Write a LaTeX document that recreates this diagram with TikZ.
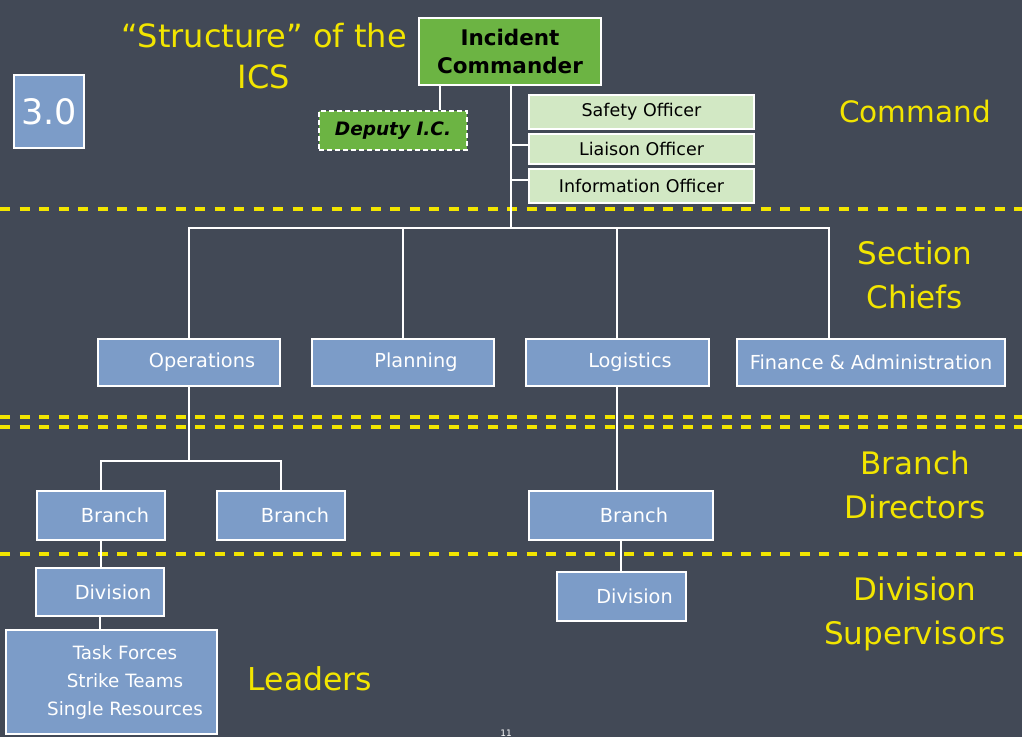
\documentclass[tikz,border=0pt]{standalone}
\usepackage{fontspec}
\setmainfont{DejaVu Sans}
\newfontfamily\boldv{DejaVu Sans}
\usetikzlibrary{positioning}
\definecolor{board}{HTML}{424956}
\definecolor{chalkyellow}{HTML}{F2E500}
\definecolor{boxblue}{HTML}{7C9CC8}
\definecolor{icgreen}{HTML}{6CB443}
\definecolor{lightgreen}{HTML}{D2E8C4}
\tikzset{
  x=1pt,y=-1pt,
  bluebox/.style={draw=white,line width=2pt,fill=boxblue,text=white,inner sep=0pt,font=\fontsize{19.3}{22}\selectfont},
  staffbox/.style={draw=white,line width=2pt,fill=lightgreen,text=black,inner sep=0pt,minimum width=225pt,font=\fontsize{17.5}{19}\selectfont},
  greenbox/.style={draw=white,line width=2pt,fill=icgreen,text=black,inner sep=0pt},
  wire/.style={draw=white,line width=2pt},
  sepline/.style={draw=chalkyellow,line width=4pt,dash pattern=on 10pt off 9.5pt},
  tag/.style={text=chalkyellow,align=center,font=\fontsize{31}{44}\selectfont}
}
\begin{document}
\begin{tikzpicture}
\useasboundingbox (0,0) rectangle (1022,737);
\fill[board] (0,0) rectangle (1022,737);

% separator lines
\draw[sepline] (0,209) -- (1022,209);
\draw[sepline] (0,417) -- (1022,417);
\draw[sepline] (0,427) -- (1022,427);
\draw[sepline] (0,554) -- (1022,554);

% nodes
\node[greenbox,minimum width=182pt,minimum height=67pt,align=center,font=\boldv\bfseries\fontsize{21.5}{28}\selectfont] (ic) at (510,51.5) {Incident\\Commander};
\node[greenbox,dash pattern=on 5pt off 3pt,minimum width=148pt,minimum height=39pt,font=\boldv\bfseries\itshape\fontsize{18.5}{20}\selectfont] (dep) at (393,130.5) {Deputy I.C.};
\node[staffbox,minimum height=34pt] (safety) at (641.5,112) {Safety Officer};
\node[staffbox,minimum height=30pt] (liaison) at (641.5,149) {Liaison Officer};
\node[staffbox,minimum height=34pt] (info) at (641.5,186) {Information Officer};

\node[bluebox,minimum width=182pt,minimum height=47pt] (ops) at (189,362.5) {\hspace{26pt}\raisebox{-2pt}{Operations}};
\node[bluebox,minimum width=182pt,minimum height=47pt] (plan) at (403,362.5) {\hspace{26pt}\raisebox{-2pt}{Planning}};
\node[bluebox,minimum width=183pt,minimum height=47pt] (log) at (617,362.5) {\hspace{26pt}\raisebox{-2pt}{Logistics}};
\node[bluebox,minimum width=268pt,minimum height=47pt] (fin) at (871,362.5) {\raisebox{-2pt}{Finance \& Administration}};

\node[bluebox,minimum width=128pt,minimum height=49pt] (br1) at (101,515.5) {\hspace{28pt}\raisebox{-1.5pt}{Branch}};
\node[bluebox,minimum width=128pt,minimum height=49pt] (br2) at (281,515.5) {\hspace{28pt}\raisebox{-1.5pt}{Branch}};
\node[bluebox,minimum width=184pt,minimum height=49pt] (br3) at (621,515.5) {\hspace{26pt}\raisebox{-1.5pt}{Branch}};

\node[bluebox,minimum width=128pt,minimum height=48pt] (div1) at (100,592) {\hspace{26pt}Division};
\node[bluebox,minimum width=129pt,minimum height=49pt] (div2) at (621.5,596.5) {\hspace{26pt}\raisebox{-1.5pt}{Division}};

\node[bluebox,minimum width=211pt,minimum height=104pt,align=center,font=\fontsize{18.3}{28}\selectfont] (task) at (111.5,682) {\hspace{27pt}Task Forces\\\hspace{27pt}Strike Teams\\\hspace{27pt}Single Resources};

\node[bluebox,minimum width=70pt,minimum height=73pt,font=\fontsize{35}{38}\selectfont] (num) at (49,111.5) {3.0};

% connectors
\draw[wire] (ic.south -| 440,0) -- (dep.north -| 440,0);
\coordinate (bar) at (511,228);
\coordinate (finbar) at (829,228);
\draw[wire] (ic.south -| bar) -- (bar);
\draw[wire] (511,145) -- (511,145 -| liaison.west);
\draw[wire] (511,180) -- (511,180 -| info.west);
\draw[wire] (ops.north) -- (ops.north |- bar) -- (finbar) -- (finbar |- fin.north);
\draw[wire] (plan.north |- bar) -- (plan.north);
\draw[wire] (log.north |- bar) -- (log.north);

\coordinate (opsbar) at (189,461);
\draw[wire] (ops.south) -- (opsbar);
\draw[wire] (br1.north) -- (br1.north |- opsbar) -- (br2.north |- opsbar) -- (br2.north);
\draw[wire] (br1.south) -- (br1.south |- div1.north);
\draw[wire] (div1.south) -- (div1.south |- task.north);
\draw[wire] (log.south) -- (log.south |- br3.north);
\draw[wire] (br3.south) -- (br3.south |- div2.north);

% labels
\node[tag,font=\fontsize{32}{41}\selectfont] (title) at (264,56) {“Structure” of the\\ICS};
\node[tag,font=\fontsize{29.5}{44}\selectfont] (lcmd) at (915,111) {Command};
\node[tag] (lsec) at (915,275) {Section\\Chiefs};
\node[tag] (lbr) at (915,485) {Branch\\Directors};
\node[tag] (ldiv) at (915,614) {Division\\Supervisors};
\node[tag,font=\fontsize{31.5}{44}\selectfont] (llead) at (310,679) {Leaders};
\node[text=white,inner sep=0pt,anchor=north,font=\fontsize{9}{11}\selectfont] (pg) at (506,730) {11};
\end{tikzpicture}
\end{document}
